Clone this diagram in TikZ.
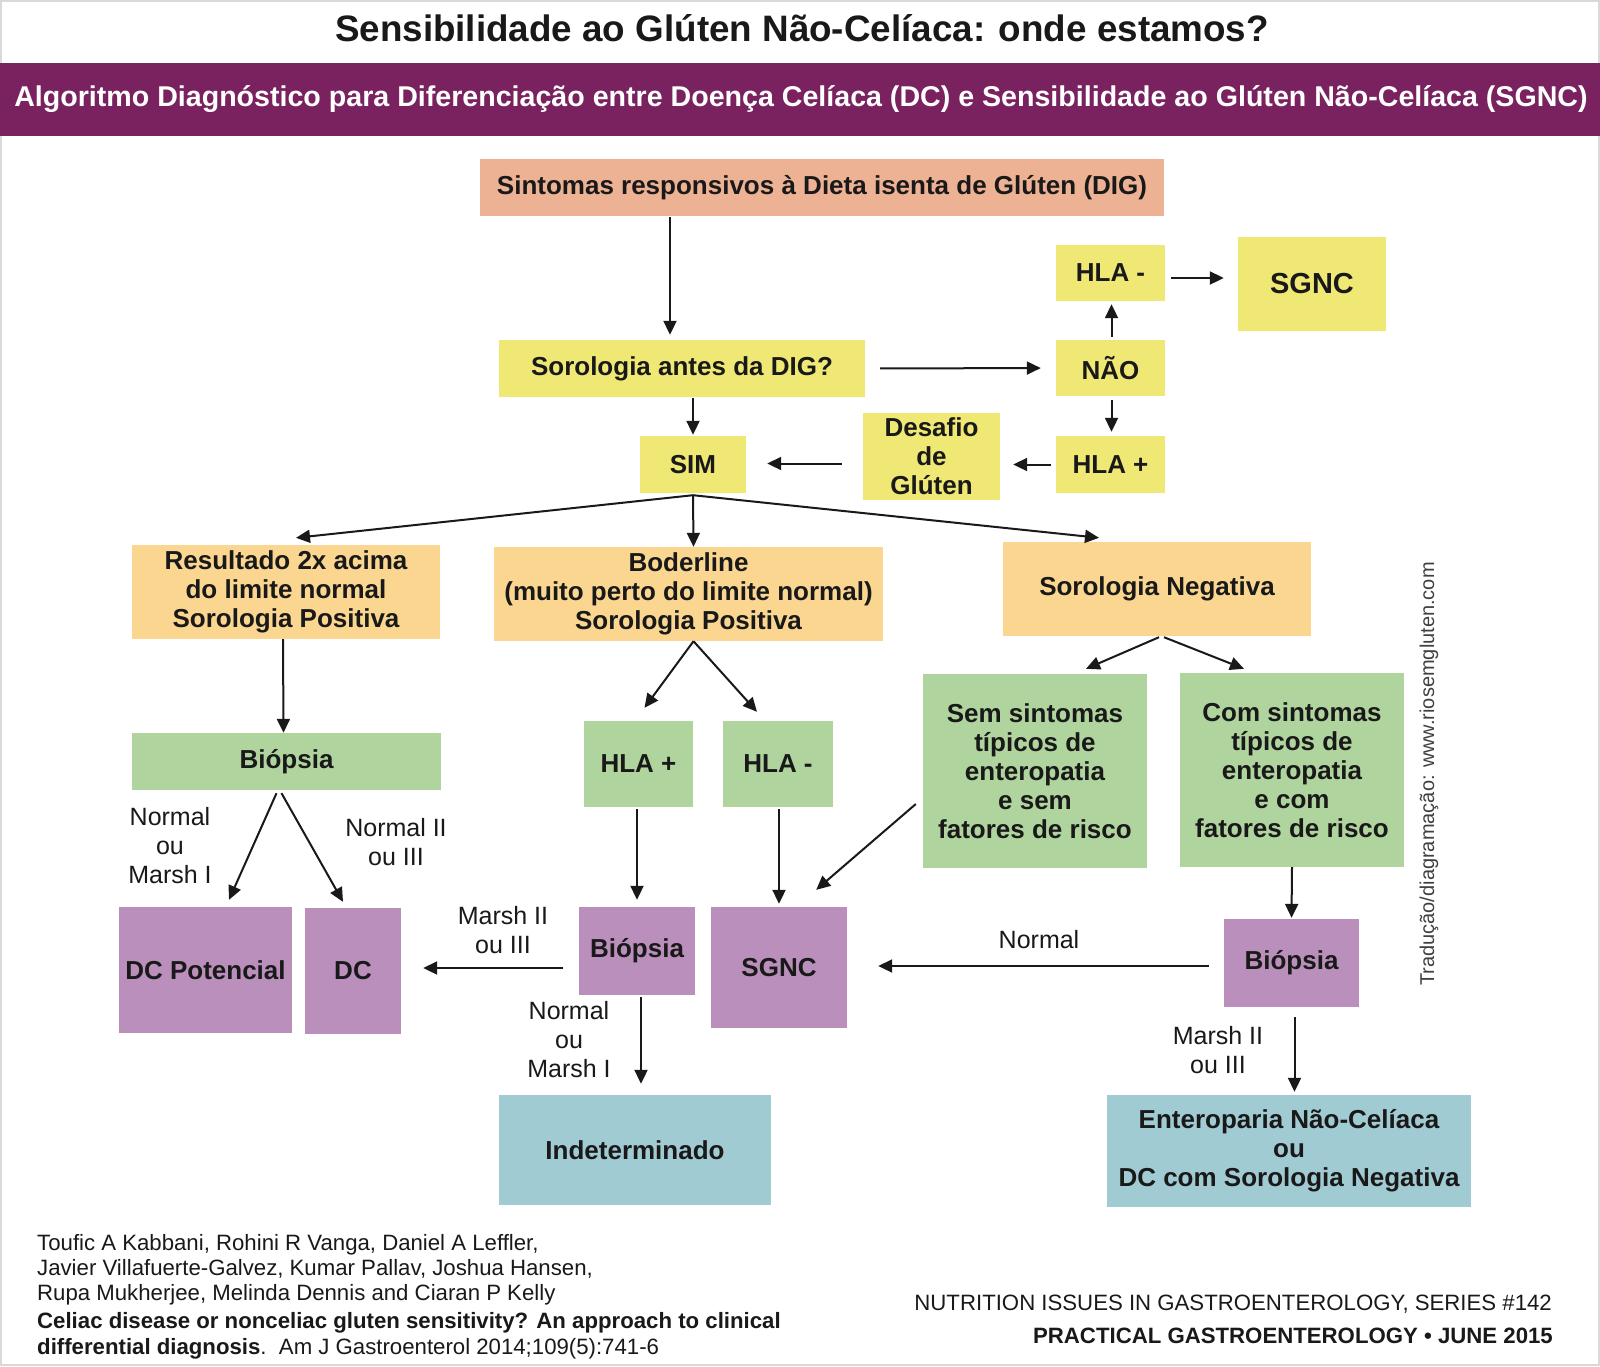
\documentclass[tikz,border=0pt]{standalone}
\usepackage{fontspec}
\setmainfont{Liberation Sans}
\usetikzlibrary{arrows.meta}
\definecolor{salmon}{HTML}{EDB193}
\definecolor{ylw}{HTML}{F0E874}
\definecolor{orng}{HTML}{FAD690}
\definecolor{grn}{HTML}{B0D49D}
\definecolor{prp}{HTML}{BA8FBB}
\definecolor{teal2}{HTML}{A0CBD3}
\definecolor{band}{HTML}{7A2260}
\tikzset{
  box/.style={draw=none, inner sep=0pt, align=center, text=black!90,
    font=\bfseries\fontsize{26}{29}\selectfont},
  arr/.style={-{Triangle[length=14pt,width=13pt]}, line width=2pt, draw=black!90},
  lbl/.style={font=\fontsize{25}{29}\selectfont, align=center, inner sep=0pt, text=black!90},
  foot/.style={font=\fontsize{22.2}{25}\selectfont, align=left, inner sep=0pt, text=black!90},
}
\newcommand{\placebox}[7]{%
  \node[box, fill=#6, minimum width={(#4-#2)*1pt}, minimum height={(#5-#3)*1pt}]
    (#1) at ({(#2+#4)/2},{(#3+#5)/2}) {#7};}
\begin{document}
\begin{tikzpicture}[x=1pt,y=-1pt]
\useasboundingbox (0,0) rectangle (1600,1366);
\fill[white] (0,0) rectangle (1600,1366);
\draw[black!15, line width=2pt] (1,1) rectangle (1599,1365);
% title
\node[inner sep=0pt, font=\bfseries\fontsize{36.8}{40}\selectfont, text=black!90] (title) at (802,28) {Sensibilidade ao Glúten Não-Celíaca: onde estamos?};
\fill[band] (0,63) rectangle (1600,136);
\node[inner sep=0pt, font=\bfseries\fontsize{28.6}{32}\selectfont, text=white] (sub) at (801,99) {Algoritmo Diagnóstico para Diferenciação entre Doença Celíaca (DC) e Sensibilidade ao Glúten Não-Celíaca (SGNC)};
% boxes
\placebox{sint}{480}{159}{1164}{216}{salmon}{Sintomas responsivos à Dieta isenta de Glúten (DIG)}
\placebox{hlaneg}{1056}{245}{1165}{301}{ylw}{HLA -}
\placebox{sgnctop}{1238}{237}{1386}{331}{ylw}{\fontsize{29}{32}\selectfont SGNC}
\placebox{soro}{499}{340}{865}{397}{ylw}{Sorologia antes da DIG?}
\placebox{nao}{1056}{340}{1165}{396}{ylw}{NÃO}
\placebox{sim}{640}{436}{746}{493}{ylw}{SIM}
\placebox{desafio}{863}{413}{1000}{500}{ylw}{Desafio\\de\\Glúten}
\placebox{hlapos}{1056}{436}{1165}{493}{ylw}{HLA +}
\placebox{res}{132}{545}{440}{639}{orng}{Resultado 2x acima\\do limite normal\\Sorologia Positiva}
\placebox{boder}{494}{547}{883}{641}{orng}{Boderline\\(muito perto do limite normal)\\Sorologia Positiva}
\placebox{sorneg}{1003}{542}{1311}{636}{orng}{Sorologia Negativa}
\placebox{bioA}{132}{733}{441}{790}{grn}{Biópsia}
\placebox{hlapB}{584}{721}{693}{807}{grn}{HLA +}
\placebox{hlanB}{723}{721}{833}{807}{grn}{HLA -}
\placebox{sem}{923}{674}{1147}{868}{grn}{Sem sintomas\\típicos de\\enteropatia\\e sem\\fatores de risco}
\placebox{com}{1180}{673}{1404}{867}{grn}{Com sintomas\\típicos de\\enteropatia\\e com\\fatores de risco}
\placebox{dcpot}{119}{907}{292}{1033}{prp}{DC Potencial}
\placebox{dc}{305}{908}{401}{1034}{prp}{DC}
\placebox{bioB}{579}{907}{695}{995}{prp}{Biópsia}
\placebox{sgncB}{711}{907}{847}{1028}{prp}{SGNC}
\placebox{bioC}{1224}{919}{1359}{1007}{prp}{Biópsia}
\placebox{indet}{499}{1095}{771}{1205}{teal2}{Indeterminado}
\placebox{ent}{1107}{1095}{1471}{1207}{teal2}{Enteroparia Não-Celíaca\\ou\\DC com Sorologia Negativa}
% arrows
\draw[arr] ([xshift=-152pt,yshift=-1pt]sint.south) -- ([xshift=-12pt,yshift=5pt]soro.north);
\draw[arr, shorten <=15pt, shorten >=15pt] (soro.east) -- (nao.west);
\draw[arr, shorten <=3pt, shorten >=3pt] ([xshift=1pt]nao.north) -- ([xshift=1pt]hlaneg.south);
\draw[arr] ([xshift=6pt,yshift=-5pt]hlaneg.east) -- ([xshift=-14pt,yshift=6pt]sgnctop.west);
\draw[arr, shorten <=4pt, shorten >=4pt] ([xshift=1pt]nao.south) -- ([xshift=1pt]hlapos.north);
\draw[arr, shorten <=5pt, shorten >=13pt] (hlapos.west) -- (hlapos.west -| desafio.east);
\draw[arr, shorten <=21pt, shorten >=21pt] ([yshift=1pt]sim.east -| desafio.west) -- ([yshift=1pt]sim.east);
\draw[arr, shorten <=1pt, shorten >=1pt] (soro.south -| sim.north) -- (sim.north);
\draw[arr] ([yshift=-2pt]sim.south) -- ([xshift=10pt,yshift=7pt]res.north);
\draw[arr] ([yshift=-2pt]sim.south) -- ([xshift=5pt]boder.north);
\draw[arr] ([yshift=-2pt]sim.south) -- ([xshift=-58pt,yshift=4pt]sorneg.north);
\draw[arr] ([xshift=-3pt]res.south) -- ([xshift=-3pt]bioA.north);
\draw[arr] ([xshift=5pt]boder.south) -- ([xshift=6pt,yshift=13pt]hlapB.north);
\draw[arr] ([xshift=5pt]boder.south) -- ([xshift=-21pt,yshift=9pt]hlanB.north);
\draw[arr] ([xshift=2pt,yshift=-1pt]sorneg.south) -- ([xshift=51pt,yshift=5pt]sem.north);
\draw[arr] ([xshift=7pt,yshift=-1pt]sorneg.south) -- ([xshift=-48pt,yshift=4pt]com.north);
\draw[arr] ([xshift=-10pt,yshift=-3pt]bioA.south) -- ([xshift=23.5pt,yshift=7pt]dcpot.north);
\draw[arr] ([xshift=-5pt,yshift=-3pt]bioA.south) -- ([xshift=-10pt,yshift=6pt]dc.north);
\draw[arr, shorten <=2pt, shorten >=7pt] (hlapB.south -| bioB.north) -- (bioB.north);
\draw[arr, shorten <=2pt, shorten >=3pt] (hlanB.south -| sgncB.north) -- (sgncB.north);
\draw[arr] ([xshift=-7pt,yshift=-33pt]sem.west) -- ([xshift=-31pt,yshift=17pt]sgncB.north east);
\draw[arr, shorten >=1pt] (com.south) -- (bioC.north);
\draw[arr, shorten <=15pt, shorten >=31pt] ([yshift=-3pt]bioC.west) -- ([yshift=-3pt]bioC.west -| sgncB.east);
\draw[arr, shorten <=16pt, shorten >=22pt] ([yshift=-17pt]bioB.west) -- ([yshift=-17pt]bioB.west -| dc.east);
\draw[arr, shorten <=2pt, shorten >=11pt] ([xshift=4pt]bioB.south) -- ([xshift=4pt]bioB.south |- indet.north);
\draw[arr, shorten <=10pt, shorten >=3pt] ([xshift=3pt]bioC.south) -- ([xshift=3pt]bioC.south |- ent.north);
% labels
\node[lbl] (l1) at (170,846) {Normal\\ou\\Marsh I};
\node[lbl] (l2) at (396,842) {Normal II\\ou III};
\node[lbl] (l3) at (503,930) {Marsh II\\ou III};
\node[lbl] (l4) at (569,1040) {Normal\\ou\\Marsh I};
\node[lbl] (l5) at (1039,940) {Normal};
\node[lbl] (l6) at (1218,1050) {Marsh II\\ou III};
\node[rotate=90, inner sep=0pt, font=\fontsize{20}{24}\selectfont, text=black!75] (credit) at (1429,774) {Tradução/diagramação: www.riosemgluten.com};
% footer
\node[foot, anchor=north west] (refs) at (37,1234) {Toufic A Kabbani, Rohini R Vanga, Daniel A Leffler,\\Javier Villafuerte-Galvez, Kumar Pallav, Joshua Hansen,\\Rupa Mukherjee, Melinda Dennis and Ciaran P Kelly};
\node[foot, anchor=north west, font=\fontsize{22.2}{26}\selectfont] (cite) at (37,1312) {\textbf{Celiac disease or nonceliac gluten sensitivity? An approach to clinical}\\\textbf{differential diagnosis}.\ \ Am J Gastroenterol 2014;109(5):741-6};
\node[foot, anchor=base east] (series) at (1552,1310) {NUTRITION ISSUES IN GASTROENTEROLOGY, SERIES \#142};
\node[foot, anchor=base east, font=\bfseries\fontsize{22.2}{25}\selectfont] (journal) at (1553,1343) {PRACTICAL GASTROENTEROLOGY • JUNE 2015};
\end{tikzpicture}
\end{document}
